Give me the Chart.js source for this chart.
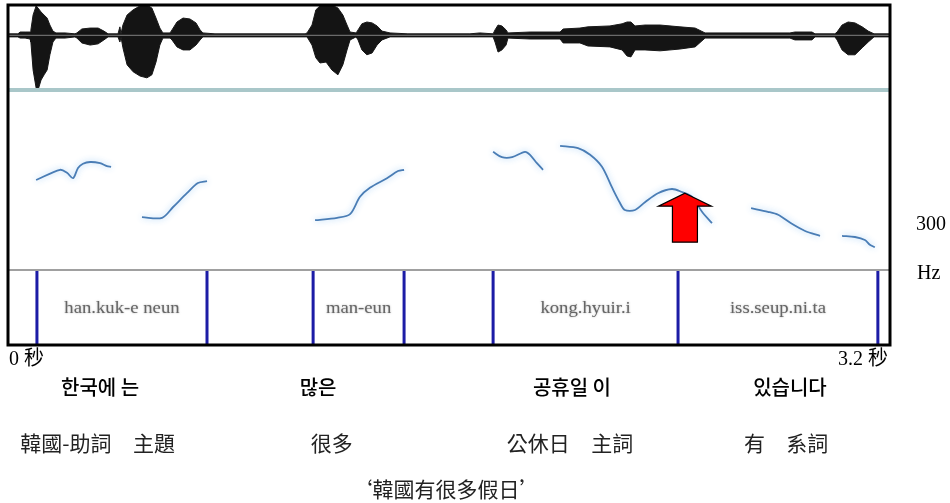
<!DOCTYPE html>
<html>
<head>
<meta charset="utf-8">
<script src="https://cdn.jsdelivr.net/npm/chart.js@4/dist/chart.umd.min.js"></script>
<style>
  html, body { margin: 0; padding: 0; background: #ffffff; }
  #wrap { width: 950px; height: 503px; position: relative; }
</style>
</head>
<body>
<div id="wrap"><canvas id="c" width="950" height="503"></canvas></div>
<script>
// Waveform amplitude envelope (seconds, upper / lower amplitude)
const waveTime = [0,0.036,0.044,0.062,0.080,0.083,0.091,0.102,0.109,0.120,0.131,0.142,0.152,0.163,0.174,0.207,0.243,0.250,0.268,0.298,0.327,0.348,0.363,0.399,0.406,0.410,0.417,0.432,0.454,0.479,0.504,0.522,0.537,0.551,0.562,0.588,0.595,0.613,0.635,0.660,0.682,0.697,0.707,0.751,1.078,1.085,1.103,1.117,1.132,1.154,1.175,1.197,1.215,1.230,1.241,1.263,1.270,1.284,1.302,1.321,1.339,1.357,1.386,1.451,1.676,1.712,1.760,1.767,1.778,1.792,1.807,1.814,1.894,2.003,2.014,2.075,2.104,2.184,2.228,2.246,2.260,2.275,2.311,2.366,2.438,2.493,2.529,2.656,2.837,2.855,2.917,2.928,3.000,3.008,3.026,3.048,3.073,3.099,3.121,3.142,3.200];
const waveUpper = [0.05,0.05,0.11,0.11,0.11,0.18,0.67,0.97,0.90,0.77,0.67,0.57,0.34,0.14,0.08,0.08,0.05,0.08,0.21,0.24,0.24,0.14,0.05,0.05,0.28,0.05,0.34,0.67,0.84,0.97,1.00,0.90,0.57,0.24,0.08,0.08,0.18,0.44,0.57,0.54,0.41,0.18,0.08,0.05,0.05,0.08,0.34,0.84,0.97,0.97,1.00,0.90,0.67,0.34,0.11,0.08,0.18,0.38,0.44,0.41,0.31,0.14,0.08,0.05,0.05,0.08,0.05,0.18,0.34,0.31,0.18,0.08,0.11,0.11,0.21,0.24,0.28,0.31,0.38,0.44,0.44,0.31,0.34,0.34,0.28,0.24,0.08,0.08,0.08,0.11,0.11,0.05,0.05,0.11,0.34,0.44,0.41,0.28,0.14,0.05,0.05];
const waveLower = [-0.05,-0.05,-0.09,-0.09,-0.12,-0.22,-1.14,-1.73,-1.80,-1.47,-1.30,-1.14,-0.64,-0.22,-0.09,-0.09,-0.05,-0.09,-0.25,-0.32,-0.28,-0.15,-0.05,-0.05,-0.22,-0.05,-0.41,-0.97,-1.20,-1.34,-1.40,-1.30,-0.88,-0.32,-0.09,-0.09,-0.15,-0.38,-0.48,-0.48,-0.32,-0.15,-0.05,-0.05,-0.05,-0.05,-0.32,-0.74,-0.91,-0.88,-1.14,-1.30,-0.97,-0.48,-0.15,-0.05,-0.15,-0.48,-0.64,-0.58,-0.32,-0.15,-0.05,-0.05,-0.05,-0.05,-0.05,-0.22,-0.55,-0.48,-0.32,-0.09,-0.12,-0.12,-0.25,-0.25,-0.35,-0.38,-0.48,-0.68,-0.71,-0.48,-0.48,-0.51,-0.45,-0.38,-0.09,-0.09,-0.09,-0.15,-0.15,-0.05,-0.05,-0.15,-0.48,-0.64,-0.64,-0.41,-0.22,-0.05,-0.05];

// F0 contour (seconds, Hz); null breaks the line between voiced stretches
const pitchTime = [0.102,0.189,0.214,0.236,0.254,0.272,0.298,0.334,0.359,0.374, 0.43, 0.486,0.559,0.599,0.649,0.689,0.722, 0.9, 1.114,1.194,1.241,1.277,1.313,1.375,1.415,1.437, 1.6, 1.760,1.792,1.829,1.876,1.894,1.919,1.941, 1.97, 2.003,2.068,2.112,2.155,2.191,2.220,2.238,2.275,2.311,2.358,2.409,2.445,2.482,2.518,2.554, 2.62, 2.696,2.757,2.794,2.844,2.892,2.946, 2.98, 3.026,3.073,3.109,3.127,3.145];
const pitchHz = [250,267,262,253,270,277,280,278,273,272, null, 188,187,205,228,245,248, null, 183,187,193,222,237,253,265,267, null, 297,288,288,297,292,278,267, null, 307,303,292,272,238,212,200,200,213,228,235,230,222,197,178, null, 203,197,192,177,165,157, null, 157,155,150,142,138];

// Word boundaries (seconds) and transcription tiers
const wordBounds = [0.105, 0.722, 1.107, 1.437, 1.760, 2.431, 3.156];
const romanLabels = ['han.kuk-e neun', 'man-eun', 'kong.hyuir.i', 'iss.seup.ni.ta'];
const romanFrom = [0, 2, 4, 5];
const romanTo = [1, 3, 5, 6];
const hangulWords = ['한국에 는', '많은', '공휴일 이', '있습니다'];
const hangulAt = [0.334, 1.125, 2.046, 2.837];
const glossWords = ['韓國-助詞  主題', '很多', '公休日  主詞', '有  系詞'];
const glossAt = [0.325, 1.175, 2.039, 2.823];
const translation = '‘韓國有很多假日’';
const timeLabels = ['0 秒', '3.2 秒'];
const timeRange = [0, 3.2];
const freqLabels = ['300', 'Hz'];

// Highlighted F0 peak
const arrowTime = 2.456;
const arrowHz = 228;

const waveUpperPts = waveTime.map((t, i) => ({ x: t, y: waveUpper[i] }));
const waveLowerPts = waveTime.map((t, i) => ({ x: t, y: waveLower[i] }));
const pitchPts = pitchTime.map((t, i) => ({ x: t, y: pitchHz[i] }));
const boundPts = [];
wordBounds.forEach(b => { boundPts.push({ x: b, y: 0 }, { x: b, y: 1 }, { x: b, y: null }); });

const SERIF = "'Liberation Serif', 'Times New Roman', 'Noto Sans CJK TC', serif";
const CJK = "'Noto Sans CJK TC', 'Noto Sans CJK KR', sans-serif";
const KR = "'Noto Sans CJK KR', sans-serif";

const glowPlugin = {
  id: 'glow',
  beforeDatasetDraw(chart, args) {
    if (args.meta.label === 'F0') {
      chart.ctx.save();
      chart.ctx.shadowColor = 'rgba(150,200,245,0.9)';
      chart.ctx.shadowBlur = 6;
    }
  },
  afterDatasetDraw(chart, args) {
    if (args.meta.label === 'F0') chart.ctx.restore();
  }
};

const decorPlugin = {
  id: 'decor',
  afterDatasetsDraw(chart) {
    const ctx = chart.ctx;
    const area = chart.chartArea;
    const xs = chart.scales.x, wave = chart.scales.wave, pitch = chart.scales.pitch, tier = chart.scales.tier;

    // panel separators
    ctx.save();
    ctx.strokeStyle = '#a9c7c9';
    ctx.lineWidth = 4;
    ctx.beginPath(); ctx.moveTo(area.left, wave.bottom); ctx.lineTo(area.right, wave.bottom); ctx.stroke();
    ctx.strokeStyle = '#a0a0a0';
    ctx.lineWidth = 2;
    ctx.beginPath(); ctx.moveTo(area.left, pitch.bottom); ctx.lineTo(area.right, pitch.bottom); ctx.stroke();
    ctx.restore();

    // romanised labels in the word tier
    ctx.save();
    ctx.font = '17px ' + SERIF;
    ctx.fillStyle = '#666666';
    ctx.textAlign = 'center';
    ctx.textBaseline = 'alphabetic';
    ctx.shadowColor = 'rgba(120,120,120,0.6)';
    ctx.shadowBlur = 2;
    const ty = tier.top + (tier.bottom - tier.top) * 0.5 + 5;
    romanLabels.forEach((s, i) => {
      const cx = (xs.getPixelForValue(wordBounds[romanFrom[i]]) + xs.getPixelForValue(wordBounds[romanTo[i]])) / 2;
      ctx.save();
      ctx.translate(cx, ty);
      ctx.scale(1.1, 1);
      ctx.fillText(s, 0, 0);
      ctx.restore();
    });
    ctx.restore();

    // red arrow pointing up at the F0 peak
    const ax = xs.getPixelForValue(arrowTime);
    const ay = pitch.getPixelForValue(arrowHz);
    ctx.save();
    ctx.beginPath();
    ctx.moveTo(ax, ay);
    ctx.lineTo(ax + 26.5, ay + 13);
    ctx.lineTo(ax + 12.5, ay + 13);
    ctx.lineTo(ax + 12.5, ay + 49);
    ctx.lineTo(ax - 12.5, ay + 49);
    ctx.lineTo(ax - 12.5, ay + 13);
    ctx.lineTo(ax - 26.5, ay + 13);
    ctx.closePath();
    ctx.fillStyle = '#ff0000';
    ctx.fill();
    ctx.strokeStyle = '#000000';
    ctx.lineWidth = 1.2;
    ctx.stroke();
    ctx.restore();

    // outer frame
    ctx.save();
    ctx.strokeStyle = '#000000';
    ctx.lineWidth = 3;
    ctx.strokeRect(area.left, area.top, area.right - area.left, area.bottom - area.top);
    ctx.restore();

    // time labels
    ctx.save();
    ctx.fillStyle = '#000000';
    ctx.font = '20px ' + SERIF;
    ctx.textBaseline = 'alphabetic';
    ctx.textAlign = 'left';
    ctx.fillText(timeLabels[0], xs.getPixelForValue(timeRange[0]) + 1, area.bottom + 20);
    ctx.textAlign = 'right';
    ctx.fillText(timeLabels[1], xs.getPixelForValue(timeRange[1]) - 2, area.bottom + 20);

    // frequency labels at the right
    ctx.textAlign = 'left';
    ctx.font = '20px ' + SERIF;
    ctx.fillText(freqLabels[0], area.right + 26, 230);
    ctx.fillText(freqLabels[1], area.right + 27, 279);

    // hangul words
    ctx.textAlign = 'center';
    ctx.textBaseline = 'middle';
    ctx.font = '500 20px ' + KR;
    hangulWords.forEach((s, i) => ctx.fillText(s, xs.getPixelForValue(hangulAt[i]), area.bottom + 42));

    // glosses
    ctx.font = '21px ' + CJK;
    ctx.fillStyle = '#222222';
    ctx.wordSpacing = '6px';
    glossWords.forEach((s, i) => ctx.fillText(s, xs.getPixelForValue(glossAt[i]), area.bottom + 98));
    ctx.wordSpacing = '0px';

    // free translation
    ctx.font = '21px ' + CJK;
    ctx.fillText(translation, 446, area.bottom + 144);
    ctx.restore();
  }
};

new Chart(document.getElementById('c'), {
  type: 'line',
  data: {
    datasets: [
      { label: 'baseline', data: [{ x: timeRange[0], y: 0 }, { x: timeRange[1], y: 0 }], yAxisID: 'wave',
        borderColor: '#6a6a6a', borderWidth: 1.2, pointRadius: 0, fill: false },
      { label: 'wave+', data: waveUpperPts, yAxisID: 'wave', borderColor: '#1a1a1a', borderWidth: 1,
        backgroundColor: '#141414', pointRadius: 0, fill: '+1', tension: 0 },
      { label: 'wave-', data: waveLowerPts, yAxisID: 'wave', borderColor: '#1a1a1a', borderWidth: 1,
        pointRadius: 0, fill: false, tension: 0 },
      { label: 'F0', data: pitchPts, yAxisID: 'pitch', borderColor: '#4a7db5', borderWidth: 1.8,
        pointRadius: 0, fill: false, spanGaps: false, tension: 0.3 },
      { label: 'bounds', data: boundPts, yAxisID: 'tier', borderColor: '#1c1ca6', borderWidth: 3,
        pointRadius: 0, fill: false, spanGaps: false }
    ]
  },
  options: {
    responsive: false,
    animation: false,
    devicePixelRatio: 1,
    layout: { padding: { left: 8, top: 5, right: 60, bottom: 158 } },
    plugins: { legend: { display: false }, tooltip: { enabled: false } },
    scales: {
      x: { type: 'linear', min: timeRange[0], max: timeRange[1], display: false },
      // left-hand stacked axes are laid out bottom-up: word tier, F0 panel, waveform
      tier: { type: 'linear', position: 'left', stack: 'panel', stackWeight: 75, min: 0, max: 1, display: false },
      pitch: { type: 'linear', position: 'left', stack: 'panel', stackWeight: 180, min: 100, max: 400, display: false },
      wave: { type: 'linear', position: 'left', stack: 'panel', stackWeight: 85, min: -1.8, max: 1.0, display: false }
    }
  },
  plugins: [glowPlugin, decorPlugin]
});
</script>
</body>
</html>
